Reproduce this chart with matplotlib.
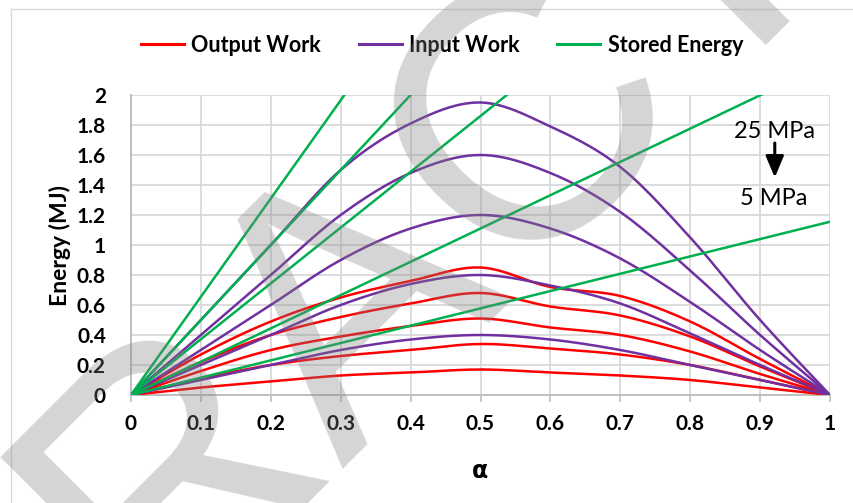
import numpy as np
import matplotlib.pyplot as plt
from matplotlib.ticker import MultipleLocator, FuncFormatter
from matplotlib.lines import Line2D

# alpha values (x axis)
alpha = [0.0, 0.1, 0.2, 0.3, 0.4, 0.5, 0.6, 0.7, 0.8, 0.9, 1.0]

# Output work, 25 -> 5 MPa
out_25 = [0, 0.27, 0.49, 0.65, 0.76, 0.85, 0.72, 0.66, 0.49, 0.24, 0]
out_20 = [0, 0.22, 0.40, 0.52, 0.61, 0.68, 0.59, 0.53, 0.39, 0.19, 0]
out_15 = [0, 0.16, 0.30, 0.39, 0.46, 0.51, 0.45, 0.40, 0.29, 0.14, 0]
out_10 = [0, 0.11, 0.20, 0.26, 0.30, 0.34, 0.31, 0.27, 0.20, 0.10, 0]
out_5 = [0, 0.05, 0.09, 0.13, 0.15, 0.17, 0.15, 0.13, 0.10, 0.05, 0]

# Input work, 25 -> 5 MPa
in_25 = [0, 0.50, 1.00, 1.50, 1.81, 1.95, 1.79, 1.52, 1.05, 0.50, 0]
in_20 = [0, 0.40, 0.80, 1.20, 1.48, 1.60, 1.48, 1.22, 0.83, 0.40, 0]
in_15 = [0, 0.30, 0.60, 0.90, 1.11, 1.20, 1.11, 0.91, 0.62, 0.30, 0]
in_10 = [0, 0.20, 0.40, 0.60, 0.74, 0.80, 0.73, 0.61, 0.41, 0.20, 0]
in_5 = [0, 0.10, 0.20, 0.30, 0.37, 0.40, 0.37, 0.30, 0.20, 0.10, 0]

# Stored energy, straight lines from (0,0) to (1,E)
stored_x = [0.0, 1.0]
stored_25 = [0, 6.55]
stored_20 = [0, 5.00]
stored_15 = [0, 3.72]
stored_10 = [0, 2.22]
stored_5 = [0, 1.155]

C_OUT = "#ff0000"
C_IN = "#7030a0"
C_ST = "#00b050"
FONT = "Lato"


def smooth(xs, ys, n=24):
    # Catmull-Rom curve through the points (like Excel "smoothed line")
    pts = np.column_stack([xs, ys]).astype(float)
    segs = []
    for i in range(len(pts) - 1):
        p0 = pts[i - 1] if i > 0 else pts[i]
        p1, p2 = pts[i], pts[i + 1]
        p3 = pts[i + 2] if i + 2 < len(pts) else pts[i + 1]
        t = np.linspace(0, 1, n, endpoint=False)[:, None]
        seg = 0.5 * (2 * p1 + (-p0 + p2) * t
                     + (2 * p0 - 5 * p1 + 4 * p2 - p3) * t ** 2
                     + (-p0 + 3 * p1 - 3 * p2 + p3) * t ** 3)
        segs.append(seg)
    segs.append(pts[-1:])
    arr = np.vstack(segs)
    return arr[:, 0], arr[:, 1]


fig = plt.figure(figsize=(8.54, 5.03), dpi=100)
ax = fig.add_axes([131 / 854, 1 - 395 / 503, 699 / 854, 300 / 503])

lw = 1.8
for ys in [out_25, out_20, out_15, out_10, out_5]:
    ax.plot(*smooth(alpha, ys), color=C_OUT, lw=lw, solid_capstyle="round", zorder=3)
for ys in [in_25, in_20, in_15, in_10, in_5]:
    ax.plot(*smooth(alpha, ys), color=C_IN, lw=lw, solid_capstyle="round", zorder=3)
for ys in [stored_25, stored_20, stored_15, stored_10, stored_5]:
    ax.plot(stored_x, ys, color=C_ST, lw=lw, zorder=3)

ax.set_xlim(0, 1)
ax.set_ylim(0, 2)
ax.xaxis.set_major_locator(MultipleLocator(0.1))
ax.yaxis.set_major_locator(MultipleLocator(0.2))
fmt = FuncFormatter(lambda v, p: "%g" % round(v, 2))
ax.xaxis.set_major_formatter(fmt)
ax.yaxis.set_major_formatter(fmt)

ax.grid(True, color="#d9d9d9", lw=1.3, zorder=0)
for s in ["top", "right"]:
    ax.spines[s].set_visible(False)
for s in ["left", "bottom"]:
    ax.spines[s].set_color("#bfbfbf")
    ax.spines[s].set_linewidth(1.4)
ax.tick_params(axis="x", length=5, width=1.2, color="#bfbfbf", pad=9)
ax.tick_params(axis="y", length=0, pad=18)
for lab in ax.get_xticklabels() + ax.get_yticklabels():
    lab.set_fontfamily(FONT)
    lab.set_fontweight("bold")
    lab.set_fontsize(15)

ax.set_ylabel("Energy (MJ)", fontfamily=FONT, fontweight="bold", fontsize=16.5)
ax.yaxis.set_label_coords(-0.086, 0.5)
ax.set_xlabel("\u03b1", fontfamily="DejaVu Sans", fontweight="bold", fontsize=17)
ax.xaxis.set_label_coords(0.5, -0.213)

# annotation
ax.text(0.92, 1.76, "25 MPa", fontfamily=FONT, fontsize=17, ha="center", va="center")
ax.text(0.92, 1.31, "5 MPa", fontfamily=FONT, fontsize=17, ha="center", va="center")
ax.annotate("", xy=(0.921, 1.45), xytext=(0.921, 1.68),
            arrowprops=dict(arrowstyle="-|>,head_width=0.55,head_length=1.3",
                            color="black", lw=2.2, shrinkA=0, shrinkB=0))

handles = [Line2D([], [], color=C_OUT, lw=2.2),
           Line2D([], [], color=C_IN, lw=2.2),
           Line2D([], [], color=C_ST, lw=2.2)]
fig.legend(handles, ["Output Work", "Input Work", "Stored Energy"],
           loc="center", bbox_to_anchor=(442 / 854, 1 - 45 / 503), ncol=3,
           frameon=False, handlelength=2.0, handletextpad=0.35, columnspacing=1.75,
           prop={"family": FONT, "weight": "bold", "size": 15.5})

# chart border (top and left edges visible)
fig.add_artist(Line2D([11 / 854, 11 / 854], [0, 1 - 9 / 503], transform=fig.transFigure,
                      color="#d9d9d9", lw=1.0))
fig.add_artist(Line2D([11 / 854, 1], [1 - 9 / 503, 1 - 9 / 503], transform=fig.transFigure,
                      color="#d9d9d9", lw=1.0))

# watermark
fig.text(420 / 854, 1 - 362 / 503, "RETRACTED", fontfamily="Liberation Sans", fontsize=262,
         color="#808080", alpha=0.33, rotation=45, rotation_mode="anchor",
         ha="center", va="baseline", zorder=10)

fig.savefig("out.png", dpi=100)
